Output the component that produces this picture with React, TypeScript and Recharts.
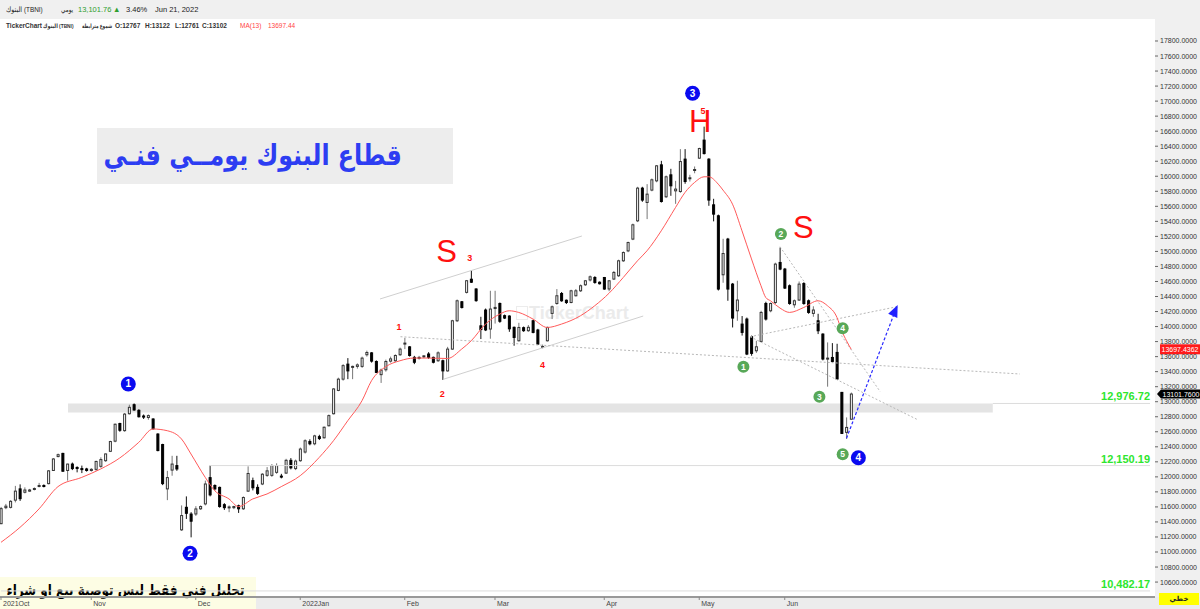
import React from 'react';
import {
  ComposedChart, Bar, Line, XAxis, YAxis,
  ReferenceLine, ReferenceArea, ReferenceDot,
} from 'recharts';

const UI_FONT = "'Liberation Sans', 'DejaVu Sans', sans-serif";
const AR_FONT = "'DejaVu Sans', sans-serif";

// Tadawul trading days (Sun-Thu), one list per month
const monthLabels = ['2021Oct', 'Nov', 'Dec', '2022Jan', 'Feb', 'Mar', 'Apr', 'May', 'Jun'];
const octDays = [5, 6, 7, 10, 11, 12, 13, 14, 17, 18, 19, 20, 21, 24, 25, 26, 27, 28, 31];
const novDays = [1, 2, 3, 4, 7, 8, 9, 10, 11, 14, 15, 16, 17, 18, 21, 22, 23, 24, 25, 28, 29, 30];
const decDays = [1, 2, 5, 6, 7, 8, 9, 12, 13, 14, 15, 16, 19, 20, 21, 22, 23, 26, 27, 28, 29, 30];
const janDays = [2, 3, 4, 5, 6, 9, 10, 11, 12, 13, 16, 17, 18, 19, 20, 23, 24, 25, 26, 27, 30, 31];
const febDays = [1, 2, 3, 6, 7, 8, 9, 10, 13, 14, 15, 16, 17, 20, 21, 23, 24, 27, 28];
const marDays = [1, 2, 3, 6, 7, 8, 9, 10, 13, 14, 15, 16, 17, 20, 21, 22, 23, 24, 27, 28, 29, 30, 31];
const aprDays = [3, 4, 5, 6, 7, 10, 11, 12, 13, 14, 17, 18, 19, 20, 21, 24, 25, 26, 27, 28];
const mayDays = [8, 9, 10, 11, 12, 15, 16, 17, 18, 19, 22, 23, 24, 25, 26, 29, 30, 31];
const junDays = [1, 2, 5, 6, 7, 8, 9, 12, 13, 14, 15, 16, 19, 20, 21];

// [open, high, low, close]
type OHLC = [number, number, number, number];
const octCandles: OHLC[] = [
  [11377, 11600, 11370, 11577], [11590, 11640, 11570, 11610], [11594, 11690, 11580, 11674],
  [11690, 11880, 11660, 11810], [11840, 11900, 11680, 11710], [11795, 11860, 11780, 11825],
  [11810, 11840, 11800, 11825], [11835, 11860, 11820, 11845], [11880, 11920, 11860, 11885],
  [11885, 11900, 11860, 11880], [11910, 12090, 11900, 12080], [12085, 12250, 12080, 12238],
  [12270, 12310, 12260, 12295], [12312, 12320, 12070, 12075], [12085, 12175, 11950, 12170],
  [12170, 12190, 12090, 12110], [12125, 12140, 12060, 12115], [12110, 12150, 12050, 12100],
  [12105, 12120, 12070, 12085],
];
const novCandles: OHLC[] = [
  [12085, 12115, 12070, 12100], [12100, 12215, 12080, 12205], [12140, 12260, 12120, 12230],
  [12215, 12310, 12200, 12305], [12340, 12480, 12330, 12470], [12475, 12710, 12460, 12700],
  [12710, 12720, 12600, 12620], [12615, 12850, 12600, 12835], [12840, 12960, 12830, 12925],
  [12960, 12977, 12880, 12890], [12885, 12900, 12790, 12800], [12810, 12830, 12770, 12795],
  [12790, 12830, 12760, 12815], [12770, 12780, 12630, 12640], [12570, 12580, 12340, 12350],
  [12430, 12440, 11890, 11910], [11840, 12080, 11690, 11990], [12090, 12280, 12015, 12170],
  [12150, 12280, 12080, 12105], [11295, 11620, 11280, 11485], [11595, 11740, 11440, 11515],
  [11505, 11530, 11195, 11410],
];
const decCandles: OHLC[] = [
  [11506, 11610, 11480, 11573], [11575, 11620, 11560, 11605], [11640, 11950, 11620, 11905],
  [11990, 12150, 11740, 11760], [11885, 11900, 11820, 11840], [11860, 11870, 11590, 11605],
  [11630, 11650, 11560, 11590], [11590, 11620, 11530, 11600], [11590, 11615, 11570, 11605],
  [11615, 11630, 11520, 11575], [11575, 11740, 11560, 11725], [11810, 12140, 11800, 12045],
  [11950, 11990, 11820, 11855], [11860, 11900, 11760, 11780], [11905, 12050, 11890, 12035],
  [12020, 12130, 12000, 12080], [12020, 12170, 12000, 12150], [12060, 12180, 12040, 12150],
  [12010, 12040, 11980, 12000], [12050, 12240, 12040, 12220], [12220, 12250, 12100, 12120],
  [12110, 12230, 12090, 12210],
];
const janCandles: OHLC[] = [
  [12215, 12390, 12200, 12370], [12330, 12500, 12310, 12480], [12470, 12500, 12420, 12440],
  [12440, 12560, 12420, 12545], [12535, 12560, 12490, 12510], [12520, 12670, 12510, 12660],
  [12680, 12830, 12670, 12815], [12840, 13180, 12830, 13170], [13150, 13320, 13140, 13300],
  [13300, 13500, 13280, 13480], [13500, 13580, 13300, 13410], [13460, 13480, 13300, 13470],
  [13470, 13510, 13440, 13490], [13470, 13600, 13450, 13580], [13625, 13680, 13600, 13655],
  [13650, 13660, 13520, 13540], [13535, 13550, 13380, 13390], [13360, 13440, 13250, 13420],
  [13425, 13560, 13400, 13535], [13540, 13600, 13520, 13570], [13545, 13630, 13530, 13615],
  [13625, 13720, 13610, 13700],
];
const febCandles: OHLC[] = [
  [13770, 13850, 13700, 13780], [13730, 13740, 13600, 13615], [13590, 13610, 13500, 13525],
  [13580, 13610, 13560, 13590], [13600, 13620, 13580, 13610], [13635, 13660, 13570, 13590],
  [13590, 13600, 13510, 13525], [13545, 13670, 13530, 13650], [13545, 13560, 13290, 13410],
  [13410, 13730, 13400, 13700], [13700, 14090, 13690, 14077], [14077, 14360, 14060, 14343],
  [14330, 14340, 14240, 14254], [14455, 14620, 14440, 14610], [14630, 14752, 14580, 14590],
  [14500, 14510, 14330, 14345], [14010, 14130, 13834, 13960], [14220, 14240, 13940, 13955],
  [13967, 14476, 13838, 14233],
];
const marCandles: OHLC[] = [
  [14240, 14476, 14040, 14255], [14307, 14320, 14050, 14070], [14145, 14160, 14100, 14113],
  [14140, 14150, 13930, 13970], [13990, 14000, 13745, 13855], [13811, 14050, 13800, 13988],
  [13985, 14000, 13930, 13945], [13945, 14020, 13930, 13990], [14077, 14090, 13910, 13922],
  [13954, 13970, 13755, 13767], [13725, 13760, 13710, 13735], [13811, 14000, 13800, 13988],
  [14175, 14280, 14100, 14263], [14307, 14499, 14290, 14410], [14440, 14460, 14330, 14343],
  [14350, 14360, 14300, 14320], [14320, 14490, 14310, 14476], [14410, 14500, 14400, 14476],
  [14476, 14560, 14460, 14543], [14556, 14620, 14540, 14609], [14620, 14680, 14600, 14662],
  [14653, 14670, 14570, 14587], [14590, 14600, 14560, 14570],
];
const aprCandles: OHLC[] = [
  [14653, 14660, 14490, 14499], [14500, 14620, 14470, 14609], [14632, 14740, 14620, 14720],
  [14676, 14890, 14660, 14875], [14875, 15000, 14860, 14985], [15007, 15130, 14990, 15118],
  [15164, 15370, 15150, 15354], [15407, 15860, 15390, 15842], [15842, 15860, 15660, 15683],
  [15651, 15895, 15430, 15762], [15816, 15970, 15800, 15953], [15939, 16150, 15920, 16139],
  [16152, 16205, 15650, 15664], [15727, 16010, 15710, 15993], [16019, 16099, 15740, 15873],
  [15806, 15939, 15633, 15829], [15797, 16361, 15780, 16196], [16228, 16361, 15900, 15930],
  [15970, 16020, 15930, 15980], [16080, 16130, 16040, 16090],
];
const mayCandles: OHLC[] = [
  [16241, 16380, 16230, 16369], [16481, 16660, 16290, 16302], [16228, 16240, 15607, 15683],
  [15620, 15700, 15400, 15496], [15474, 15490, 14480, 14499], [14689, 15168, 14583, 14972],
  [15164, 15180, 14343, 14499], [14565, 14580, 13988, 14113], [14210, 14610, 14077, 14353],
  [14033, 14140, 13880, 13922], [14100, 14120, 13620, 13634], [13865, 13880, 13612, 13643],
  [13678, 13810, 13650, 13731], [13802, 14210, 13790, 14188], [14307, 14330, 14080, 14100],
  [14210, 14320, 14190, 14307], [14320, 14850, 14300, 14831], [14853, 15052, 14750, 14765],
];
const junCandles: OHLC[] = [
  [14765, 14780, 14500, 14512], [14543, 14560, 14290, 14307], [14290, 14360, 14250, 14343],
  [14353, 14600, 14340, 14565], [14573, 14590, 14290, 14307], [14343, 14360, 14170, 14188],
  [14175, 14270, 14130, 14220], [14077, 14170, 13900, 13944], [13900, 13910, 13550, 13568],
  [13570, 13789, 13200, 13580], [13589, 13780, 13520, 13536], [13656, 13771, 13290, 13302],
  [13124, 13130, 12570, 12578], [12592, 12791, 12504, 12658], [12767, 13122, 12761, 13102],
];

// MA(13): [candle index, value]
const maPoints: [number, number][] = [
  [0, 11129], [4, 11328], [8, 11573], [12, 11870], [17, 11993], [21, 12105], [25, 12251],
  [29, 12459], [32, 12637], [35, 12614], [38, 12504], [40, 12304], [43, 11993], [45, 11816],
  [48, 11706], [50, 11604], [53, 11706], [56, 11772], [59, 11870], [63, 12016], [67, 12259],
  [70, 12481], [73, 12747], [76, 13013], [78, 13279], [81, 13466], [84, 13545], [87, 13581],
  [90, 13581], [94, 13575], [97, 13701], [99, 13811], [102, 14033], [105, 14166], [107, 14210],
  [109, 14188], [112, 14100], [115, 13988], [118, 14033], [122, 14144], [125, 14277],
  [128, 14443], [131, 14653], [134, 14875], [136, 15008], [139, 15274], [142, 15584],
  [144, 15784], [146, 15917], [148, 15993], [149, 15993], [151, 15895], [152, 15816],
  [154, 15629], [156, 15274], [158, 14900], [160, 14543], [161, 14387], [162, 14343],
  [164, 14246], [166, 14188], [169, 14254], [172, 14343], [174, 14277], [176, 14121],
  [177, 13944], [178, 13811], [179, 13697],
];

const priceTicks = [
  10600, 10800, 11000, 11200, 11400, 11600, 11800, 12000, 12200, 12400, 12600, 12800,
  13000, 13200, 13400, 13600, 13800, 14000, 14200, 14400, 14600, 14800, 15000, 15200,
  15400, 15600, 15800, 16000, 16200, 16400, 16600, 16800, 17000, 17200, 17400, 17600, 17800,
];

const levels = [12976.72, 12150.19, 10482.17];
const lastClose = 13101.76;
const lastMA = 13697.4362;

// elliott / pattern marks in chart coordinates
const blueWaves = [
  { i: 26.8, v: 13236, n: '1' }, { i: 39.8, v: 10982, n: '2' },
  { i: 145.6, v: 17104, n: '3' }, { i: 180.5, v: 12255, n: '4' },
];
const greenWaves = [
  { i: 156.3, v: 13466, n: '1' }, { i: 164.2, v: 15232, n: '2' }, { i: 172.3, v: 13067, n: '3' },
  { i: 177.2, v: 13977, n: '4' }, { i: 177.2, v: 12300, n: '5' },
];
const redMarks = [
  { i: 93.8, v: 15005, t: 'S', big: true }, { i: 98.7, v: 14908, t: '3', big: false },
  { i: 83.8, v: 13998, t: '1', big: false }, { i: 92.9, v: 13098, t: '2', big: false },
  { i: 114, v: 13488, t: '4', big: false }, { i: 147.2, v: 16735, t: 'H', big: true },
  { i: 147.8, v: 16870, t: '5', big: false }, { i: 168.9, v: 15325, t: 'S', big: true },
];
const trendLines = [
  { a: [79.8, 14367], b: [122.3, 15205], dotted: false },
  { a: [93.1, 13298], b: [135.2, 14140], dotted: false },
  { a: [84.1, 13865], b: [214.5, 13369], dotted: true },
  { a: [157.7, 13865], b: [188.6, 14264], dotted: true },
  { a: [157.7, 13865], b: [193.1, 12757], dotted: true },
  { a: [164.0, 15063], b: [185.1, 13133], dotted: true },
];
const arrowFrom = [178, 12513];
const arrowTo = [188.6, 14264];

const Y_MIN = 10401.3;
const Y_MAX = 18079.4;
const X_MIN = -0.21;
const X_MAX = 242.95;

const allDays = [octDays, novDays, decDays, janDays, febDays, marDays, aprDays, mayDays, junDays];
const allCandles = [octCandles, novCandles, decCandles, janCandles, febCandles, marCandles, aprCandles, mayCandles, junCandles];

const monthTickIdx: number[] = [];
const rows: any[] = [];
allDays.forEach((days, m) => {
  monthTickIdx.push(rows.length);
  days.forEach((d, k) => {
    const [o, h, l, c] = allCandles[m][k];
    rows.push({ i: rows.length, day: `${monthLabels[m]} ${d}`, o, h, l, c, range: [l, h], ma: null });
  });
});
maPoints.forEach(([i, v]) => { rows[i].ma = v; });

function Candle(props: any) {
  const { x, y, width, height, payload } = props;
  if (!payload) return null;
  const { o, h, l, c } = payload;
  const k = height / (h - l);
  const cx = x + width / 2;
  const yo = y + (h - o) * k;
  const yc = y + (h - c) * k;
  const top = Math.min(yo, yc);
  const bot = Math.max(yo, yc);
  const up = c >= o;
  return (
    <g>
      <line x1={cx} x2={cx} y1={y} y2={y + height} stroke={up ? '#777' : '#111'} strokeWidth={1} />
      <rect
        x={x + 0.5}
        y={top}
        width={width - 1}
        height={Math.max(bot - top, 1)}
        fill={up ? '#fff' : '#000'}
        stroke={up ? '#333' : '#000'}
        strokeWidth={1}
      />
    </g>
  );
}

function MonthTick({ x, y, payload }: any) {
  const idx = monthTickIdx.indexOf(payload.value);
  return (
    <text x={x + 2} y={y + 4} fontSize={7} fill="#444" fontFamily={UI_FONT}>
      {monthLabels[idx]}
    </text>
  );
}

const hdr = (left: number, top: number, size: number, color = '#222', bold = false, sx = 1): React.CSSProperties => ({
  position: 'absolute', left, top, fontSize: size, lineHeight: `${size + 2}px`, color,
  fontWeight: bold ? 'bold' : 'normal', whiteSpace: 'nowrap', unicodeBidi: 'isolate', direction: 'ltr',
  transform: sx !== 1 ? `scaleX(${sx})` : undefined, transformOrigin: 'left center',
});

export default function App() {
  return (
    <div style={{ position: 'absolute', left: 0, top: 0, width: 1200, height: 609, background: '#fff', overflow: 'hidden', fontFamily: UI_FONT }}>
      {/* header */}
      <div style={{ position: 'absolute', left: 0, top: 0, width: 1200, height: 19, background: '#f0f0f0' }} />
      <span style={hdr(6, 5, 7.5, '#222', false, 0.85)}>البنوك (TBNI)</span>
      <span style={hdr(61, 5, 7, '#222', false, 0.8)}>يومي</span>
      <span style={hdr(78, 5, 7.5, '#2f9e2f')}>13,101.76</span>
      <span style={hdr(113, 5, 7.5, '#2f9e2f')}>▲</span>
      <span style={hdr(126, 5, 7.5)}>3.46%</span>
      <span style={hdr(155, 5, 7.5)}>Jun 21, 2022</span>

      <span style={hdr(6, 22, 6.5, '#333', true)}>TickerChart</span>
      <span style={hdr(43, 22, 6, '#333', true, 0.8)}>البنوك (TBNI)</span>
      <span style={hdr(82, 22, 6, '#333', true, 0.7)}>شموع مترابطة</span>
      <span style={hdr(115, 22, 6.5, '#333', true)}>O:12767</span>
      <span style={hdr(145, 22, 6.5, '#333', true)}>H:13122</span>
      <span style={hdr(175, 22, 6.5, '#333', true)}>L:12761</span>
      <span style={hdr(202, 22, 6.5, '#333', true)}>C:13102</span>
      <span style={hdr(240, 22, 6.5, '#ff4444')}>MA(13)</span>
      <span style={hdr(268, 22, 6.5, '#ff4444')}>13697.44</span>

      {/* axis backgrounds */}
      <div style={{ position: 'absolute', left: 1155, top: 19, width: 45, height: 578, background: '#f0f0f0' }} />
      <div style={{ position: 'absolute', left: 0, top: 597, width: 1200, height: 12, background: '#ececec' }} />

      {/* title box */}
      <div style={{ position: 'absolute', left: 97, top: 128, width: 356, height: 56, background: '#ededed' }}>
        <div style={{ position: 'absolute', right: 51, top: 5, fontFamily: AR_FONT, fontSize: 29, fontWeight: 'bold', color: '#2d3df2', direction: 'rtl', whiteSpace: 'nowrap', lineHeight: '44px', transform: 'scaleX(0.82)', transformOrigin: 'right center' }}>
          قطاع البنوك يومــي فنـي
        </div>
      </div>

      {/* watermark */}
      <div style={{ position: 'absolute', left: 516, top: 306, width: 10, height: 12, border: '1px solid #ececec' }} />
      <div style={{ position: 'absolute', left: 529, top: 302, fontSize: 18, fontWeight: 'bold', color: '#ebebeb', lineHeight: '22px' }}>TickerChart</div>

      {/* disclaimer */}
      <div style={{ position: 'absolute', left: 0, top: 577, width: 256, height: 32, background: '#fdfde4' }}>
        <div style={{ position: 'absolute', right: 11, top: 4, fontFamily: AR_FONT, fontSize: 15, fontWeight: 'bold', color: '#000', direction: 'rtl', whiteSpace: 'nowrap', lineHeight: '18px', transform: 'scaleX(0.8)', transformOrigin: 'right center' }}>
          تحليل فني فقط  ليس توصية بيع او شراء
        </div>
      </div>

      <div style={{ position: 'absolute', left: 0, top: 0 }}>
        <ComposedChart width={1200} height={609} data={rows} margin={{ top: 20, right: 0, bottom: 0, left: 0 }}>
          <XAxis
            dataKey="i"
            type="number"
            domain={[X_MIN, X_MAX]}
            allowDataOverflow
            ticks={monthTickIdx}
            tick={<MonthTick />}
            tickSize={3}
            tickMargin={2}
            tickLine={{ stroke: '#888' }}
            axisLine={{ stroke: '#999', strokeWidth: 2 }}
            height={12}
            interval={0}
          />
          <YAxis
            orientation="right"
            type="number"
            domain={[Y_MIN, Y_MAX]}
            allowDataOverflow
            ticks={priceTicks}
            interval={0}
            width={45}
            tickSize={3}
            tickMargin={2}
            axisLine={false}
            tickLine={{ stroke: '#666' }}
            tick={{ fontSize: 7, fill: '#333', fontFamily: UI_FONT }}
            tickFormatter={(v: number) => v.toFixed(4)}
          />

          <ReferenceArea x1={14.1} x2={208.8} y1={12856} y2={levels[0]} fill="#e4e4e4" fillOpacity={1} stroke="none" ifOverflow="visible" />
          <ReferenceLine segment={[{ x: 208.8, y: levels[0] }, { x: 241.9, y: levels[0] }]} stroke="#dcdcdc" ifOverflow="visible" />
          <ReferenceLine segment={[{ x: 44, y: levels[1] }, { x: 241.9, y: levels[1] }]} stroke="#dcdcdc" ifOverflow="visible" />
          <ReferenceLine segment={[{ x: 0, y: levels[2] }, { x: 241.9, y: levels[2] }]} stroke="#dcdcdc" ifOverflow="visible" />

          {trendLines.map((t, k) => (
            <ReferenceLine
              key={`tl${k}`}
              segment={[{ x: t.a[0], y: t.a[1] }, { x: t.b[0], y: t.b[1] }]}
              stroke={t.dotted ? '#b8b8b8' : '#cfcfcf'}
              strokeDasharray={t.dotted ? '2 2' : undefined}
              ifOverflow="visible"
            />
          ))}

          <Bar dataKey="range" barSize={3} shape={<Candle />} isAnimationActive={false} />
          <Line
            dataKey="ma"
            type="monotone"
            connectNulls
            stroke="#ff5a5a"
            strokeWidth={1}
            dot={false}
            activeDot={false}
            isAnimationActive={false}
          />

          <ReferenceLine
            segment={[{ x: arrowFrom[0], y: arrowFrom[1] }, { x: arrowTo[0], y: arrowTo[1] }]}
            stroke="#2a2aff"
            strokeDasharray="3 2"
            strokeWidth={1.2}
            ifOverflow="visible"
          />
          <ReferenceDot
            x={arrowTo[0]}
            y={arrowTo[1]}
            r={1}
            ifOverflow="visible"
            shape={(p: any) => (
              <polygon points="2,0 -10,-5 -10,5" fill="#2020ff" transform={`translate(${p.cx},${p.cy}) rotate(-65.9)`} />
            )}
          />

          {blueWaves.map((w, k) => (
            <ReferenceDot
              key={`bw${k}`}
              x={w.i}
              y={w.v}
              r={8}
              ifOverflow="visible"
              shape={(p: any) => (
                <g>
                  <circle cx={p.cx} cy={p.cy} r={7.5} fill="#0a0af0" />
                  <text x={p.cx} y={p.cy + 3.5} textAnchor="middle" fontSize={10} fontWeight="bold" fill="#fff" fontFamily={UI_FONT}>{w.n}</text>
                </g>
              )}
            />
          ))}
          {greenWaves.map((w, k) => (
            <ReferenceDot
              key={`gw${k}`}
              x={w.i}
              y={w.v}
              r={6}
              ifOverflow="visible"
              shape={(p: any) => (
                <g>
                  <circle cx={p.cx} cy={p.cy} r={6} fill="#58a858" />
                  <text x={p.cx} y={p.cy + 3} textAnchor="middle" fontSize={8.5} fontWeight="bold" fill="#fff" fontFamily={UI_FONT}>{w.n}</text>
                </g>
              )}
            />
          ))}
          {redMarks.map((m, k) => (
            <ReferenceDot
              key={`rm${k}`}
              x={m.i}
              y={m.v}
              r={1}
              ifOverflow="visible"
              shape={(p: any) => (
                <text
                  x={p.cx}
                  y={p.cy + (m.big ? 11 : 3)}
                  textAnchor="middle"
                  fontSize={m.big ? 31 : 9}
                  fontWeight={m.big ? 'normal' : 'bold'}
                  fill="#ff1010"
                  fontFamily={UI_FONT}
                >
                  {m.t}
                </text>
              )}
            />
          ))}

          {levels.map((lv, k) => (
            <ReferenceDot
              key={`lv${k}`}
              x={241.9}
              y={lv}
              r={1}
              ifOverflow="visible"
              shape={(p: any) => (
                <text x={p.cx} y={p.cy - 3} textAnchor="end" fontSize={11} fontWeight="bold" fill="#2ee62e" fontFamily={UI_FONT}>
                  {lv.toLocaleString('en-US', { minimumFractionDigits: 2 })}
                </text>
              )}
            />
          ))}

          <ReferenceDot
            x={X_MAX}
            y={lastMA}
            r={1}
            ifOverflow="visible"
            shape={(p: any) => (
              <g>
                <rect x={p.cx + 5} y={p.cy - 5} width={40} height={10} fill="#ff1a1a" />
                <text x={p.cx + 25} y={p.cy + 2.5} textAnchor="middle" fontSize={7} fill="#fff" fontFamily={UI_FONT}>{lastMA.toFixed(4)}</text>
              </g>
            )}
          />
          <ReferenceDot
            x={X_MAX}
            y={lastClose}
            r={1}
            ifOverflow="visible"
            shape={(p: any) => (
              <g>
                <polygon
                  points={`${p.cx + 2},${p.cy} ${p.cx + 6},${p.cy - 4.5} ${p.cx + 45},${p.cy - 4.5} ${p.cx + 45},${p.cy + 4.5} ${p.cx + 6},${p.cy + 4.5}`}
                  fill="#000"
                />
                <text x={p.cx + 26} y={p.cy + 2.5} textAnchor="middle" fontSize={7} fill="#fff" fontFamily={UI_FONT}>{lastClose.toFixed(4)}</text>
              </g>
            )}
          />
        </ComposedChart>
      </div>

      {/* scale mode tag */}
      <div style={{ position: 'absolute', left: 1159, top: 593, width: 40, height: 12, background: '#ffff00', fontFamily: AR_FONT, fontSize: 7, fontWeight: 'bold', textAlign: 'center', lineHeight: '12px', color: '#222' }}>
        خطي
      </div>
    </div>
  );
}
